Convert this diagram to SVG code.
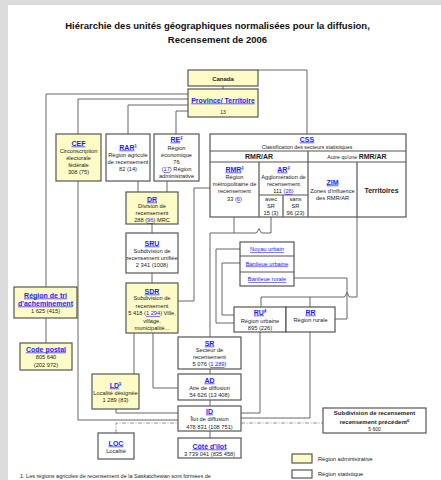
<svg xmlns="http://www.w3.org/2000/svg" width="441" height="480" viewBox="0 0 441 480">
<style>
.box{stroke:#555;stroke-width:1.2}
.adm{fill:#fefcc6}
.stat{fill:#fff}
.ln{fill:none;stroke:#555;stroke-width:0.9}
.dd{fill:none;stroke:#777;stroke-width:0.8;stroke-dasharray:4 1.5 1 1.5}
text{font-family:"Liberation Sans",Arial,sans-serif;font-size:5.7px;fill:#222;text-anchor:middle}
.h{font-weight:bold;font-size:7px;fill:#1a1aff;text-decoration:underline}
.lk{fill:#1a1aff;text-decoration:underline}
.b{font-weight:bold;font-size:7px}
.sup{font-size:4px}
.title{font-weight:bold;font-size:9.5px;fill:#111}
.lg{text-anchor:start}
</style>
<rect x="0" y="0" width="441" height="480" fill="#dcdcdc"/>
<rect x="8" y="5" width="433" height="475" fill="#fff"/>
<text class="title" x="217.5" y="29">Hiérarchie des unités géographiques normalisées pour la diffusion,</text>
<text class="title" x="217.5" y="42.5">Recensement de 2006</text>

<g id="connectors">
<path class="ln" d="M258,70 H307 V134"/>
<path class="ln" d="M223,86 V89"/>
<path class="ln" d="M188,94 H46 V287"/>
<path class="ln" d="M188,99 H78 V134"/>
<path class="ln" d="M188,105 H128 V134"/>
<path class="ln" d="M188,111 H176 V134"/>
<path class="ln" d="M138,181 V192"/>
<path class="ln" d="M167,181 V192"/>
<path class="ln" d="M152,224 V233"/>
<path class="ln" d="M152,273 V283"/>
<path class="ln" d="M46,318 V343"/>
<path class="ln" d="M78,181 V420 H178"/>
<path class="ln" d="M178,301 H194 V188 H210"/>
<path class="ln" d="M234,217 V233"/>
<path class="ln" d="M271,217 V233 H261.5 L259,228.5 L256.5,233 H210 V337"/>
<path class="ln" d="M357,217 V297 H349.5 L347,292.5 L344.5,297 H261 V307"/>
<path class="ln" d="M310,297 V307"/>
<path class="ln" d="M240,249 H216 V323 H234"/>
<path class="ln" d="M240,263 H222 V315 H234"/>
<path class="ln" d="M294,278 H347 V319 H335"/>
<path class="ln" d="M260,332 V413 H241"/>
<path class="ln" d="M310,332 V418 H241"/>
<path class="ln" d="M134,333 V374"/>
<path class="ln" d="M153,333 V388 H178"/>
<path class="ln" d="M116,409 V413 H178"/>
<path class="ln" d="M210,369 V374"/>
<path class="ln" d="M210,400 V406"/>
<path class="ln" d="M210,431 V438"/>
<path class="dd" d="M116,433 V423 H178"/>
<path class="dd" d="M241,423 H323"/>
</g>

<g id="canada">
<rect class="box adm" x="188" y="70" width="70" height="16"/>
<text class="b" x="223" y="80.5" style="font-size:6px">Canada</text>
</g>
<g id="province">
<rect class="box adm" x="188" y="89" width="70" height="28"/>
<text class="h" x="223" y="102.5">Province/ Territoire</text>
<text x="223" y="114" style="font-size:5px">13</text>
</g>
<g id="cef">
<rect class="box adm" x="56" y="134" width="45" height="47"/>
<text class="h" x="78.5" y="145.5">CEF</text>
<text x="78.5" y="153">Circonscription</text>
<text x="78.5" y="160">électorale</text>
<text x="78.5" y="167">fédérale</text>
<text x="78.5" y="174">308 (75)</text>
</g>
<g id="rar">
<rect class="box stat" x="106" y="134" width="44" height="47"/>
<text class="h" x="128" y="149.5">RAR<tspan class="sup" dy="-3">1</tspan></text>
<text x="128" y="157">Région agricole</text>
<text x="128" y="164">de recensement</text>
<text x="128" y="171">82 (14)</text>
</g>
<g id="re">
<rect class="box stat" x="154" y="134" width="45" height="47"/>
<text class="h" x="176.5" y="141.5">RE<tspan class="sup" dy="-3">2</tspan></text>
<text x="176.5" y="150">Région</text>
<text x="176.5" y="157">économique</text>
<text x="176.5" y="164">76</text>
<text x="176.5" y="171">(<tspan class="lk">17</tspan>) Région</text>
<text x="176.5" y="178">administrative</text>
</g>
<g id="dr">
<rect class="box adm" x="126" y="192" width="52" height="32"/>
<text class="h" x="152" y="201.5">DR</text>
<text x="152" y="208">Division de</text>
<text x="152" y="215">recensement</text>
<text x="152" y="222">288 (<tspan class="lk">96</tspan>) MRC</text>
</g>
<g id="sru">
<rect class="box stat" x="126" y="233" width="52" height="40"/>
<text class="h" x="152" y="245.5">SRU</text>
<text x="152" y="253">Subdivision de</text>
<text x="152" y="260">recensement unifiée</text>
<text x="152" y="267">2 341 (1008)</text>
</g>
<g id="sdr">
<rect class="box adm" x="126" y="283" width="52" height="50"/>
<text class="h" x="152" y="293.5">SDR</text>
<text x="152" y="300">Subdivision de</text>
<text x="152" y="308">recensement</text>
<text x="152" y="315">5 418 (<tspan class="lk">1 294</tspan>) Ville,</text>
<text x="152" y="323">village,</text>
<text x="152" y="330">municipalité...</text>
</g>
<g id="rta">
<rect class="box adm" x="14" y="287" width="63" height="31"/>
<text class="h" x="45.5" y="297.5">Région de tri</text>
<text class="h" x="45.5" y="305.5">d'acheminement</text>
<text x="45.5" y="313">1 625 (415)</text>
</g>
<g id="codepostal">
<rect class="box adm" x="20" y="343" width="52" height="27"/>
<text class="h" x="46" y="351.5">Code postal</text>
<text x="46" y="359">805 640</text>
<text x="46" y="367">(202 972)</text>
</g>
<g id="css">
<rect class="box stat" x="210" y="134" width="196" height="83"/>
<path class="box" fill="none" d="M210,151 H406 M210,162 H406 M308,151 V217 M259,162 V217 M357,162 V217 M259,195 H308 M283,195 V217"/>
<text class="h" x="307" y="141.5">CSS</text>
<text x="307" y="149" style="font-size:5.3px">Classification des secteurs statistiques</text>
<text class="b" x="259" y="159">RMR/AR</text>
<text x="357" y="159"><tspan style="font-size:5.3px">Autre qu'une </tspan><tspan class="b">RMR/AR</tspan></text>
</g>
<g id="rmr">
<text class="h" x="234.5" y="171.5">RMR<tspan class="sup" dy="-3">3</tspan></text>
<text x="234.5" y="179">Région</text>
<text x="234.5" y="186">métropolitaine de</text>
<text x="234.5" y="193">recensement</text>
<text x="234.5" y="201">33 (<tspan class="lk">6</tspan>)</text>
</g>
<g id="ar">
<text class="h" x="283.5" y="171.5">AR<tspan class="sup" dy="-3">3</tspan></text>
<text x="283.5" y="179">Agglomération de</text>
<text x="283.5" y="185.5">recensement</text>
<text x="283.5" y="193">111 (<tspan class="lk">26</tspan>)</text>
<text x="271" y="201">avec</text>
<text x="271" y="208">SR</text>
<text x="271" y="215">15 (3)</text>
<text x="295.5" y="201">sans</text>
<text x="295.5" y="208">SR</text>
<text x="295.5" y="215">96 (23)</text>
</g>
<g id="zim">
<text class="h" x="332.5" y="184.5">ZIM</text>
<text x="332.5" y="193">Zones d'influence</text>
<text x="332.5" y="200">des RMR/AR</text>
</g>
<g id="territoires">
<text class="b" x="381.5" y="192.5">Territoires</text>
</g>
<g id="noyau">
<rect class="box stat" x="240" y="242" width="54" height="44"/>
<path class="box" fill="none" d="M240,256 H294 M240,272 H294"/>
<text class="lk" x="267" y="251">Noyau urbain</text>
<text class="lk" x="267" y="265.5">Banlieue urbaine</text>
<text class="lk" x="267" y="281">Banlieue rurale</text>
</g>
<g id="ru">
<rect class="box stat" x="234" y="307" width="52" height="25"/>
<text class="h" x="260" y="314.5">RU<tspan class="sup" dy="-3">4</tspan></text>
<text x="260" y="323">Région urbaine</text>
<text x="260" y="330">895 (226)</text>
</g>
<g id="rr">
<rect class="box stat" x="286" y="307" width="49" height="25"/>
<text class="h" x="310.5" y="314.5">RR</text>
<text x="310.5" y="321.5">Région rurale</text>
</g>
<g id="sr">
<rect class="box stat" x="178" y="337" width="63" height="32"/>
<text class="h" x="209.5" y="345.5">SR</text>
<text x="209.5" y="352">Secteur de</text>
<text x="209.5" y="359">recensement</text>
<text x="209.5" y="366">5 076 (<tspan class="lk">1 289</tspan>)</text>
</g>
<g id="ad">
<rect class="box stat" x="178" y="374" width="63" height="26"/>
<text class="h" x="209.5" y="382.5">AD</text>
<text x="209.5" y="390">Aire de diffusion</text>
<text x="209.5" y="397">54 626 (13 408)</text>
</g>
<g id="id">
<rect class="box stat" x="178" y="406" width="63" height="25"/>
<text class="h" x="209.5" y="413.5">ID</text>
<text x="209.5" y="421">Îlot de diffusion</text>
<text x="209.5" y="429">478 831 (108 751)</text>
</g>
<g id="cote">
<rect class="box stat" x="178" y="438" width="63" height="20"/>
<text class="h" x="209.5" y="448.5">Côté d'îlot</text>
<text x="209.5" y="456">3 739 041 (835 458)</text>
</g>
<g id="ld">
<rect class="box adm" x="92" y="374" width="47" height="35"/>
<text class="h" x="115.5" y="387.5">LD<tspan class="sup" dy="-3">5</tspan></text>
<text x="115.5" y="395">Localité désignée</text>
<text x="115.5" y="402">1 289 (83)</text>
</g>
<g id="loc">
<rect class="box stat" x="98" y="433" width="36" height="26"/>
<text class="h" x="116" y="445.5">LOC</text>
<text x="116" y="453">Localité</text>
</g>
<g id="sdr-prec">
<rect class="box stat" x="323" y="408" width="103" height="25"/>
<text class="b" x="374.5" y="414.5" style="font-size:6px">Subdivision de recensement</text>
<text class="b" x="374.5" y="424" style="font-size:6px">recensement précédent<tspan class="sup" dy="-2.5">6</tspan></text>
<text x="374.5" y="430.5" style="font-size:5px">5 600</text>
</g>
<g id="legend">
<rect class="box adm" x="292" y="454" width="20" height="9"/>
<text class="lg" x="318" y="461">Région administrative</text>
<rect class="box stat" x="292" y="470" width="20" height="8"/>
<text class="lg" x="318" y="476">Région statistique</text>
</g>
<text class="lg" x="20" y="477.5" style="font-size:5.5px">1. Les régions agricoles de recensement de la Saskatchewan sont formées de</text>
</svg>
